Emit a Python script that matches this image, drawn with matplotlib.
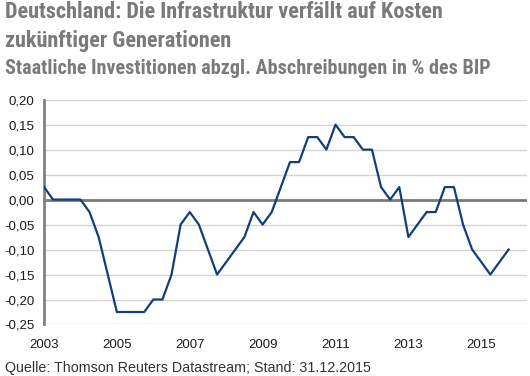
import numpy as np
import matplotlib
matplotlib.use('Agg')
import matplotlib.pyplot as plt
from matplotlib.ticker import FuncFormatter

# quarterly values 2003Q1 .. 2015Q4 (% des BIP)
werte = [0.025, 0.0, 0.0, 0.0, 0.0, -0.025, -0.075, -0.15,
         -0.225, -0.225, -0.225, -0.225, -0.20, -0.20, -0.15, -0.05,
         -0.025, -0.05, -0.10, -0.15, -0.125, -0.10, -0.075, -0.025,
         -0.05, -0.025, 0.025, 0.075, 0.075, 0.125, 0.125, 0.10,
         0.15, 0.125, 0.125, 0.10, 0.10, 0.025, 0.0, 0.025,
         -0.075, -0.05, -0.025, -0.025, 0.025, 0.025, -0.05, -0.10,
         -0.125, -0.15, -0.125, -0.10]
jahre = 2003 + np.arange(len(werte)) / 4
xticks = [2003, 2005, 2007, 2009, 2011, 2013, 2015]
yticks = [0.20, 0.15, 0.10, 0.05, 0.00, -0.05, -0.10, -0.15, -0.20, -0.25]

title_font = ['Roboto Condensed', 'DejaVu Sans']
plt.rcParams['font.family'] = ['Liberation Sans', 'DejaVu Sans']

fig = plt.figure(figsize=(5.3, 3.76), dpi=100)
ax = fig.add_axes([0.083, 0.137, 0.911, 0.598])

ax.plot(jahre, werte, color='#123f7c', lw=1.6, zorder=3)

for y in yticks:
    if y != 0:
        ax.axhline(y, color='#d4d4d4', lw=1.0, zorder=1)
ax.axhline(0, color='#7a7a7a', lw=2.0, zorder=2)

ax.set_xlim(2003, 2016.25)
ax.set_ylim(-0.25, 0.20)
ax.set_xticks(xticks)
ax.set_yticks(yticks)
ax.yaxis.set_major_formatter(FuncFormatter(lambda v, p: f'{v:.2f}'.replace('.', ',').replace('-0,00', '0,00')))

for s in ['top', 'right', 'bottom']:
    ax.spines[s].set_visible(False)
ax.spines['left'].set_color('#808080')
ax.spines['left'].set_linewidth(2.0)
ax.tick_params(axis='both', length=0, labelsize=9.5, colors='#1a1a1a')
ax.tick_params(axis='y', pad=7)
ax.tick_params(axis='x', pad=10.5)

kw = dict(family=title_font, fontweight='bold', color='#7a7a7a', va='baseline', ha='left')
fig.text(0.009, 0.951, 'Deutschland: Die Infrastruktur verfällt auf Kosten', fontsize=16, **kw)
fig.text(0.009, 0.876, 'zukünftiger Generationen', fontsize=16, **kw)
fig.text(0.009, 0.802, 'Staatliche Investitionen abzgl. Abschreibungen in % des BIP', fontsize=14.5, **kw)
fig.text(0.009, 0.011, 'Quelle: Thomson Reuters Datastream; Stand: 31.12.2015',
         fontsize=10.3, color='#333333', va='baseline', ha='left')

fig.savefig('out.png', dpi=100)
